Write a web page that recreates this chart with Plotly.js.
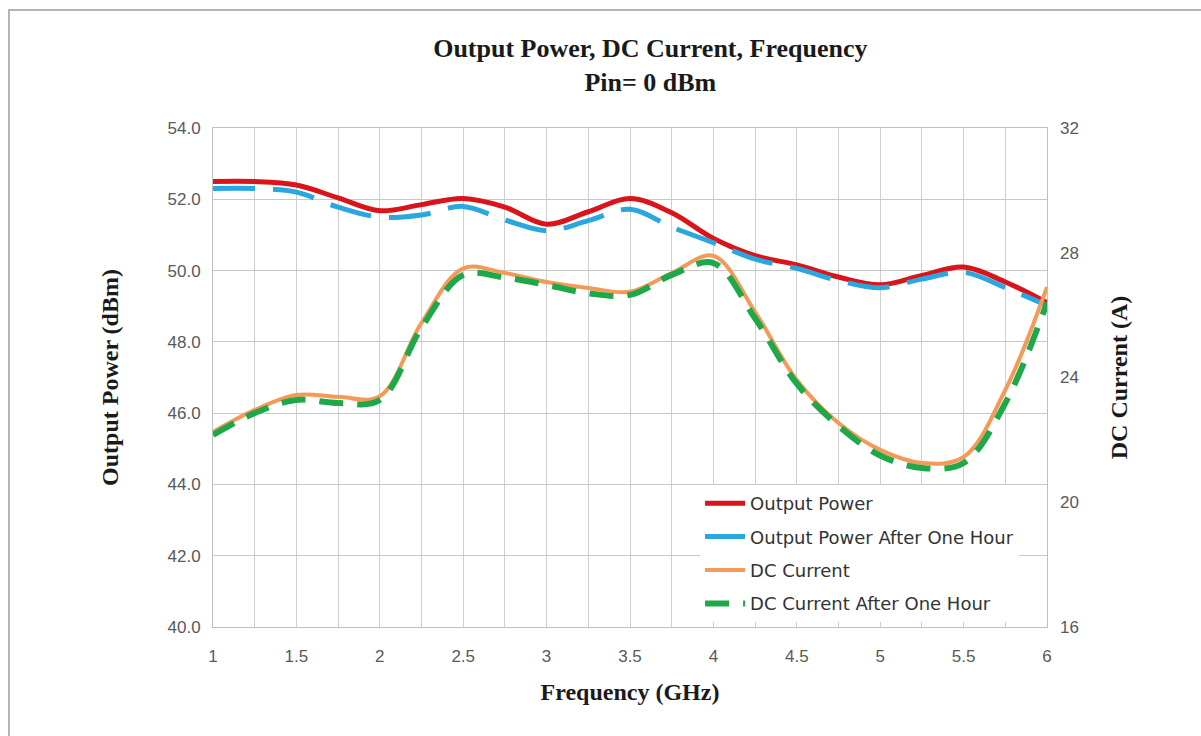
<!DOCTYPE html>
<html>
<head>
<meta charset="utf-8">
<script src="https://cdn.plot.ly/plotly-3.0.1.min.js"></script>
<style>
html,body{margin:0;padding:0;background:#fff;}
#chart{width:1201px;height:736px;position:absolute;left:0;top:0;}
#frame{position:absolute;left:8px;top:9px;width:1193px;height:727px;border-top:2px solid #b4b4b4;border-left:2px solid #b4b4b4;box-sizing:border-box;pointer-events:none;}
</style>
</head>
<body>
<div id="chart"></div>
<div id="frame"></div>
<script>
const freq = [1,1.25,1.5,1.75,2,2.25,2.5,2.75,3,3.25,3.5,3.75,4,4.25,4.5,4.75,5,5.25,5.5,5.75,6];
const outputPower = [52.5,52.5,52.4,52.04,51.68,51.85,52.02,51.78,51.3,51.65,52.02,51.62,50.9,50.42,50.16,49.82,49.6,49.86,50.1,49.68,49.1];
const outputPowerHour = [52.3,52.3,52.2,51.78,51.5,51.56,51.8,51.42,51.12,51.4,51.72,51.22,50.78,50.32,50.06,49.72,49.52,49.76,49.95,49.52,49.02];
const dcCurrent = [22.25,22.96,23.44,23.38,23.4,25.75,27.5,27.35,27.06,26.87,26.75,27.35,27.9,26.1,23.92,22.54,21.68,21.26,21.45,23.6,26.9];
const dcCurrentHour = [22.16,22.86,23.28,23.18,23.28,25.6,27.29,27.2,26.97,26.7,26.65,27.29,27.67,25.9,23.8,22.45,21.5,21.1,21.26,23.18,26.4];
const xTicks = [1,1.5,2,2.5,3,3.5,4,4.5,5,5.5,6];
const yLeftTicks = [40,42,44,46,48,50,52,54];
const yRightTicks = [16,20,24,28,32];

const traces = [
  {x: freq, y: outputPower, name: 'Output Power', mode: 'lines', yaxis: 'y', legendgroup: 'a',
   line: {color: '#d9141a', width: 5, shape: 'spline', smoothing: 1}},
  {x: freq, y: outputPowerHour, name: 'Output Power After One Hour', mode: 'lines', yaxis: 'y', legendgroup: 'b',
   line: {color: '#2aa7df', width: 5, shape: 'spline', smoothing: 1, dash: '42px,18px'}},
  {x: freq, y: dcCurrent, name: 'DC Current', mode: 'lines', yaxis: 'y2', legendgroup: 'c',
   line: {color: '#f39a58', width: 4, shape: 'spline', smoothing: 1}},
  {x: freq, y: dcCurrentHour, name: 'DC Current After One Hour', mode: 'lines', yaxis: 'y2', legendgroup: 'd',
   line: {color: '#1ea84a', width: 6, shape: 'spline', smoothing: 1, dash: '24px,14px'}}
];

const tickFont = {family: 'Liberation Sans, Arial, sans-serif', size: 17, color: '#595959'};
const serif = 'Liberation Serif, Times New Roman, serif';

const layout = {
  width: 1201, height: 736,
  margin: {l: 213, r: 154, t: 128, b: 109},
  paper_bgcolor: '#ffffff', plot_bgcolor: '#ffffff',
  title: {text: '<b>Output Power, DC Current, Frequency<br>Pin= 0 dBm</b>',
          font: {family: serif, size: 26, color: '#1a1a1a'},
          x: 0.5415, xanchor: 'center', y: 0.922, yanchor: 'top'},
  xaxis: {range: [1, 6], tickvals: xTicks, ticktext: xTicks.map(String),
          showgrid: true, gridcolor: '#cfcfcf', gridwidth: 1,
          minor: {dtick: 0.25, showgrid: true, gridcolor: '#cfcfcf', gridwidth: 1},
          showline: true, linecolor: '#bfbfbf', linewidth: 1, mirror: true,
          zeroline: false, ticks: '', ticklabelstandoff: 14, tickfont: tickFont,
          title: {text: '<b>Frequency (GHz)</b>', font: {family: serif, size: 24, color: '#1a1a1a'}, standoff: 17}},
  yaxis: {range: [40, 54], tickvals: yLeftTicks, ticktext: yLeftTicks.map(v => v.toFixed(1)),
          showgrid: true, gridcolor: '#c8c8c8', gridwidth: 1,
          showline: true, linecolor: '#bfbfbf', linewidth: 1, mirror: true,
          zeroline: false, ticks: '', ticklabelstandoff: 8, tickfont: tickFont,
          title: {text: '<b>Output Power (dBm)</b>', font: {family: serif, size: 24, color: '#1a1a1a'}, standoff: 42}},
  yaxis2: {range: [16, 32], tickvals: yRightTicks, ticktext: yRightTicks.map(String),
           overlaying: 'y', side: 'right', showgrid: false, zeroline: false,
           ticks: '', ticklabelstandoff: 12, tickfont: tickFont,
           title: {text: '<b>DC Current (A)</b>', font: {family: serif, size: 24, color: '#1a1a1a'}, standoff: 32}},
  showlegend: true,
  legend: {x: 0.584, xanchor: 'left', y: 0.01, yanchor: 'bottom',
           bgcolor: '#ffffff', borderwidth: 0,
           font: {family: 'DejaVu Sans, sans-serif', size: 18, color: '#333333'},
           tracegroupgap: 7, itemwidth: 40}
};

Plotly.newPlot('chart', traces, layout, {displayModeBar: false, staticPlot: true});
</script>
</body>
</html>
